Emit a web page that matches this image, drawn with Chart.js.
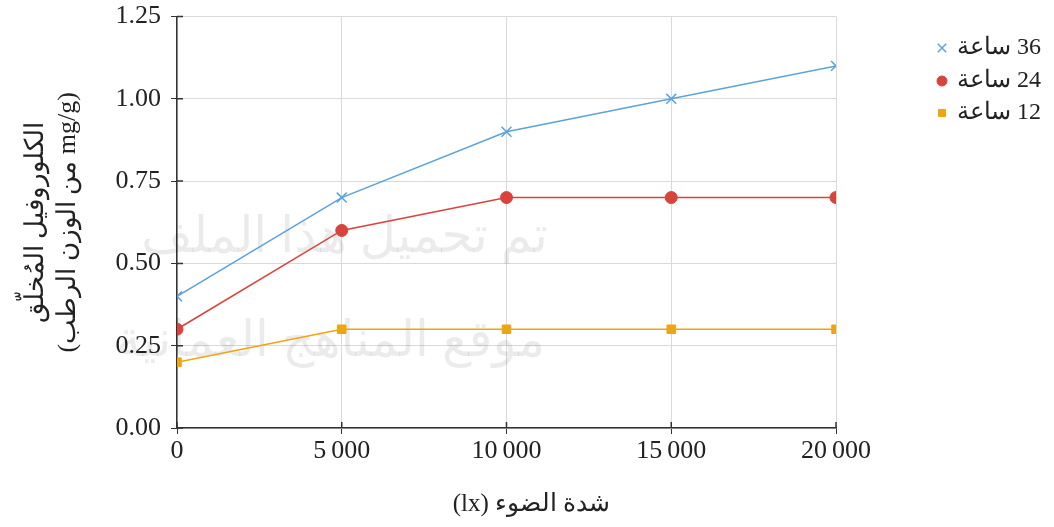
<!DOCTYPE html>
<html>
<head>
<meta charset="utf-8">
<script src="https://cdn.jsdelivr.net/npm/chart.js@4.4.1/dist/chart.umd.min.js"></script>
<style>
  html, body { margin: 0; padding: 0; background: #fff; }
  #wrap { width: 1054px; height: 527px; }
</style>
</head>
<body>
<div id="wrap"><canvas id="chart" width="1054" height="527"></canvas></div>
<script>
// data
const lightLevels = [0, 5000, 10000, 15000, 20000];
const seriesNames = ['36 ساعة', '24 ساعة', '12 ساعة'];
const hours36 = [0.4, 0.7, 0.9, 1.0, 1.1];
const hours24 = [0.3, 0.6, 0.7, 0.7, 0.7];
const hours12 = [0.2, 0.3, 0.3, 0.3, 0.3];
const xTitle = 'شدة الضوء (lx)';
const yTitle = ['الكلوروفيل المُخلّق', '(mg/g من الوزن الرطب)'];
const watermark = ['تم تحميل هذا الملف', 'موقع المناهج العمانية'];

const RTL = s => '\u202B' + s + '\u202C';
const SERIF = "'Liberation Serif', 'DejaVu Serif', serif";
const ink = '#222';

const toPoints = vals => lightLevels.map((x, i) => ({ x: x, y: vals[i] }));

// thin-space thousands, like "10 000"
function fmtThousands(v) {
    const s = String(Math.round(v));
    return s.replace(/\B(?=(\d{3})+(?!\d))/g, '\u2009');
}

// faint watermark behind the lines
const watermarkPlugin = {
    id: 'watermark',
    beforeDatasetsDraw(chart) {
        const ctx = chart.ctx;
        ctx.save();
        ctx.fillStyle = 'rgba(0,0,0,0.08)';
        ctx.font = "50px 'Noto Sans', 'DejaVu Sans', sans-serif";
        ctx.direction = 'rtl';
        ctx.textAlign = 'right';
        ctx.textBaseline = 'middle';
        ctx.fillText(watermark[0], 548, 238);
        ctx.fillText(watermark[1], 545, 342);
        ctx.restore();
    }
};

// small tick marks crossing into the plot
const innerTicks = {
    id: 'innerTicks',
    afterDraw(chart) {
        const ctx = chart.ctx;
        const xs = chart.scales.x, ys = chart.scales.y;
        ctx.save();
        ctx.strokeStyle = '#333';
        ctx.lineWidth = 1.5;
        ctx.beginPath();
        xs.ticks.forEach(t => {
            const px = xs.getPixelForValue(t.value);
            ctx.moveTo(px, ys.bottom);
            ctx.lineTo(px, ys.bottom - 6);
        });
        ys.ticks.forEach(t => {
            const py = ys.getPixelForValue(t.value);
            ctx.moveTo(xs.left, py);
            ctx.lineTo(xs.left + 6, py);
        });
        ctx.stroke();
        ctx.restore();
    }
};

// legend on the right, marker left of the text
const sideLegend = {
    id: 'sideLegend',
    afterDraw(chart) {
        const ctx = chart.ctx;
        const rows = [48, 81, 113];
        ctx.save();
        chart.data.datasets.forEach((ds, i) => {
            const y = rows[i];
            const cross = ds.pointStyle === 'crossRot';
            ctx.fillStyle = ds.pointBackgroundColor;
            ctx.strokeStyle = ds.pointBorderColor;
            ctx.lineWidth = cross ? 1.5 : 1;
            Chart.helpers.drawPoint(ctx, {
                pointStyle: ds.pointStyle,
                radius: cross ? 6 : 5,
                borderWidth: ctx.lineWidth
            }, 942, y);
            ctx.fillStyle = ink;
            ctx.font = "24px " + SERIF;
            ctx.direction = 'rtl';
            ctx.textAlign = 'right';
            ctx.textBaseline = 'middle';
            ctx.fillText(ds.label, 1041, y);
        });
        ctx.restore();
    }
};

function makeSet(label, vals, color, style, radius) {
    return {
        label: label,
        data: toPoints(vals),
        borderColor: color,
        backgroundColor: color,
        pointBackgroundColor: color,
        pointBorderColor: color,
        pointStyle: style,
        pointRadius: radius,
        pointBorderWidth: style === 'crossRot' ? 1.5 : 1,
        borderWidth: 1.5,
        tension: 0,
        fill: false
    };
}

new Chart(document.getElementById('chart'), {
    type: 'line',
    data: {
        datasets: [
            makeSet(seriesNames[0], hours36, '#5aa3dc', 'crossRot', 7),
            makeSet(seriesNames[1], hours24, '#d9433b', 'circle', 6),
            makeSet(seriesNames[2], hours12, '#eea511', 'rect', 6)
        ]
    },
    options: {
        responsive: false,
        animation: false,
        layout: { padding: { left: 10, right: 218, top: 0, bottom: 0 } },
        plugins: { legend: { display: false }, tooltip: { enabled: false } },
        scales: {
            x: {
                type: 'linear',
                min: 0,
                max: 20000,
                afterFit: s => { s.height = 99; },
                ticks: {
                    stepSize: 5000,
                    color: ink,
                    font: { family: SERIF, size: 26 },
                    padding: 2,
                    maxRotation: 0,
                    callback: v => fmtThousands(v)
                },
                grid: { color: '#d9d9d9', lineWidth: 1, tickColor: '#333', tickLength: 6 },
                border: { color: '#333', width: 1.5 },
                title: {
                    display: true,
                    text: '\u2003\u2003' + RTL(xTitle),
                    color: ink,
                    font: { family: SERIF, size: 25 },
                    padding: { top: 0, bottom: 8 }
                }
            },
            y: {
                min: 0,
                max: 1.25,
                afterFit: s => { s.width = 167; },
                ticks: {
                    stepSize: 0.25,
                    color: ink,
                    font: { family: SERIF, size: 26, lineHeight: 0.5 },
                    padding: 10,
                    callback: v => v.toFixed(2)
                },
                grid: { color: '#d9d9d9', lineWidth: 1, tickColor: '#333', tickLength: 6 },
                border: { color: '#333', width: 1.5 },
                title: {
                    display: true,
                    text: yTitle.map(RTL),
                    color: ink,
                    font: { family: SERIF, size: 26 },
                    padding: { top: 11, bottom: 0 }
                }
            }
        }
    },
    plugins: [watermarkPlugin, innerTicks, sideLegend]
});
</script>
</body>
</html>
